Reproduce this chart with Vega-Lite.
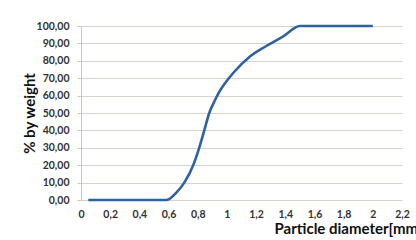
{
  "$schema": "https://vega.github.io/schema/vega-lite/v6.json",
  "autosize": "none",
  "width": 321,
  "height": 174,
  "padding": {"left": 81, "top": 26, "right": 14, "bottom": 40},
  "background": "#ffffff",
  "config": {
    "locale": {"number": {"decimal": ",", "thousands": ".", "grouping": [3], "currency": ["", ""]}},
    "view": {"stroke": null},
    "font": "Lato"
  },
  "data": {"values": [
    {"d": 0.05, "w": 0},
    {"d": 0.3, "w": 0},
    {"d": 0.587, "w": 0},
    {"d": 0.655, "w": 4.4},
    {"d": 0.708, "w": 10},
    {"d": 0.769, "w": 20},
    {"d": 0.81, "w": 30},
    {"d": 0.845, "w": 40},
    {"d": 0.879, "w": 50},
    {"d": 0.918, "w": 57.3},
    {"d": 0.94, "w": 61},
    {"d": 0.986, "w": 67},
    {"d": 1.043, "w": 73},
    {"d": 1.158, "w": 82.5},
    {"d": 1.27, "w": 88.5},
    {"d": 1.386, "w": 94},
    {"d": 1.5, "w": 100},
    {"d": 2.0, "w": 100}
  ]},
  "mark": {"type": "line", "color": "#2f62a0", "strokeWidth": 2.6, "interpolate": "monotone"},
  "encoding": {
    "x": {
      "field": "d", "type": "quantitative",
      "scale": {"domain": [0, 2.2], "nice": false, "zero": false},
      "axis": {
        "values": [0, 0.2, 0.4, 0.6, 0.8, 1, 1.2, 1.4, 1.6, 1.8, 2, 2.2],
        "format": ".1~f",
        "grid": false, "domain": false, "ticks": false,
        "labelPadding": 9, "labelFontSize": 10.5, "labelColor": "#333333", "labelFontWeight": "bold",
        "labelFlush": false,
        "title": "Particle diameter[mm]",
        "titleFontSize": 15, "titleFontWeight": "bold", "titleColor": "#111111",
        "titleAlign": "left", "titleAnchor": "start", "titleX": 193, "titleY": 33, "titleBaseline": "alphabetic"
      }
    },
    "y": {
      "field": "w", "type": "quantitative",
      "scale": {"domain": [0, 100], "nice": false},
      "axis": {
        "values": [0, 10, 20, 30, 40, 50, 60, 70, 80, 90, 100],
        "format": ".2f",
        "grid": true, "gridColor": "#d8d2cc", "gridWidth": 1,
        "domain": true, "domainColor": "#c8c8c8",
        "ticks": true, "tickSize": 4, "tickColor": "#c8c8c8",
        "labelPadding": 8, "labelFontSize": 10.5, "labelColor": "#333333", "labelFontWeight": "bold",
        "labelFlush": false,
        "title": "% by weight",
        "titleFontSize": 15, "titleFontWeight": "bold", "titleColor": "#111111",
        "titleAngle": -90, "titleAlign": "center", "titleBaseline": "middle",
        "titleX": -52, "titleY": 87
      }
    }
  }
}
